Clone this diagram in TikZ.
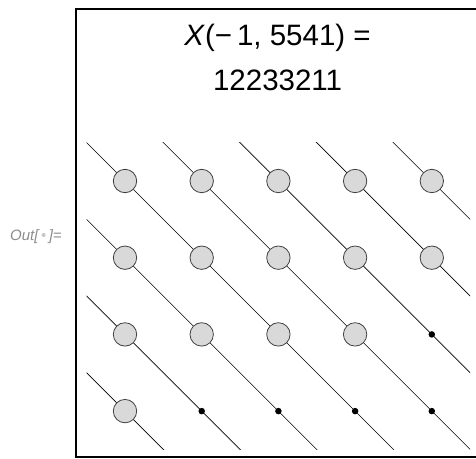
\documentclass[tikz,border=0pt]{standalone}
\usepackage{fontspec}
\setmainfont{Liberation Sans}
\usetikzlibrary{positioning}
\definecolor{ballfill}{HTML}{D9D9D9}
\definecolor{balledge}{HTML}{404040}
\definecolor{promptgray}{HTML}{8C8C8C}
\definecolor{promptdot}{HTML}{C8C8C8}

\begin{document}
\begin{tikzpicture}[x=1pt, y=-1pt,
    every node/.style={font=\fontsize{29.5}{34}\selectfont, inner sep=0pt},
    titlelabel/.style={anchor=base},
    promptlabel/.style={font=\fontsize{15}{17}\selectfont\itshape, color=promptgray, anchor=base west},
    ball/.style={circle, draw=balledge, fill=ballfill, line width=0.8pt, minimum size=23.4pt},
    hole/.style={circle, fill=black, minimum size=6.5pt},
    diag/.style={line width=0.6pt},
    frame/.style={line width=2pt},
]
\useasboundingbox (0,0) rectangle (476,458);
\draw[frame] (76,9) rectangle (479,457);
% title, two lines
\node[titlelabel] (title1) at (277.6,45.5) {\textit{X}(−\,1, 5541) =};
\node[titlelabel] (title2) at (277.6,90) {12233211};
\node[promptlabel] (prompt) at (10,240) {Out[\,{\upshape\color{promptdot}•}\,]=};
% diagonals behind the balls
\begin{scope}[shift={(125,181)}, x=76.7pt, y=-76.7pt]
    \begin{scope}
        \clip (-0.5,-0.5) rectangle (4.5,3.5);
        \foreach \k in {-3,...,4}
            \draw[diag] (\k-1,-1) -- (\k+5,5);
    \end{scope}
    % balls per row: 5,5,4,1
    \foreach \n [count=\r] in {5,5,4,1}
        \foreach \c in {1,...,5} {
            \ifnum\c>\n
                \node[hole] (b-\r-\c) at (\c-1,\r-1) {};
            \else
                \node[ball] (b-\r-\c) at (\c-1,\r-1) {};
            \fi
        }
\end{scope}
\end{tikzpicture}
\end{document}
